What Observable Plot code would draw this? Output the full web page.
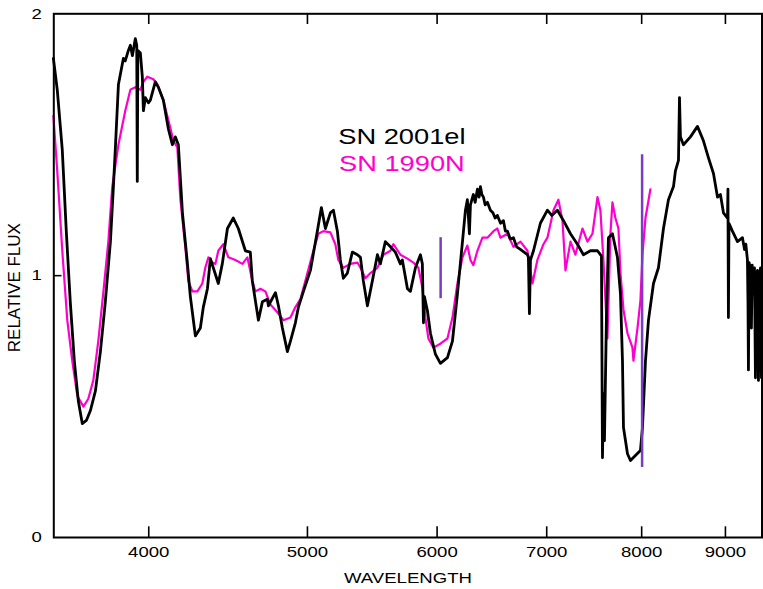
<!DOCTYPE html>
<html>
<head>
<meta charset="utf-8">
<script src="https://cdn.jsdelivr.net/npm/d3@7"></script>
<script src="https://cdn.jsdelivr.net/npm/@observablehq/plot@0.6"></script>
<style>
  html, body { margin: 0; padding: 0; background: #fff; }
  #chart svg { display: block; }
</style>
</head>
<body>
<div id="chart"></div>
<script>
// SN 2001el spectrum (wavelength in Å, relative flux)
const el2001Wave = [3498,3517,3542,3562,3582,3603,3623,3643,3664,3685,3711,3737,3763,3790,3806,3816,3833,3860,3870,3887,3898,3909,3925,3933,3936,3939,3953,3964,3970,3981,3998,4009,4037,4054,4083,4112,4135,4152,4170,4194,4223,4241,4271,4301,4319,4344,4362,4380,4411,4436,4468,4505,4537,4582,4614,4627,4667,4693,4726,4733,4780,4800,4827,4861,4882,4916,4937,4972,5021,5070,5099,5128,5164,5186,5215,5237,5259,5289,5326,5364,5387,5409,5440,5478,5517,5540,5579,5619,5658,5698,5714,5755,5779,5820,5861,5877,5886,5894,5919,5944,5986,6028,6088,6131,6174,6218,6244,6261,6279,6288,6314,6330,6350,6365,6377,6390,6404,6420,6440,6467,6490,6510,6531,6560,6587,6605,6624,6650,6680,6710,6746,6780,6813,6822,6832,6842,6871,6938,7007,7050,7106,7167,7238,7309,7371,7444,7518,7549,7560,7571,7581,7592,7613,7635,7678,7732,7765,7787,7798,7842,7875,7930,7986,8009,8043,8077,8134,8191,8249,8307,8366,8389,8425,8437,8448,8484,8568,8653,8726,8788,8850,8900,8937,8975,9026,9032,9038,9045,9089,9154,9218,9245,9262,9283,9290,9296,9305,9322,9335,9345,9362,9375,9388,9400,9415,9428,9440,9455,9462,9468,9474];
const el2001Flux = [1.83,1.71,1.48,1.17,0.90,0.67,0.52,0.435,0.447,0.485,0.56,0.71,0.90,1.13,1.34,1.48,1.73,1.83,1.82,1.86,1.88,1.84,1.905,1.88,1.36,1.86,1.85,1.76,1.63,1.68,1.66,1.67,1.74,1.72,1.67,1.56,1.50,1.53,1.50,1.24,1.05,0.92,0.77,0.80,0.88,0.95,1.065,1.03,0.97,1.046,1.18,1.22,1.18,1.095,1.09,0.98,0.83,0.90,0.91,0.885,0.935,0.885,0.80,0.71,0.75,0.82,0.88,0.94,1.02,1.17,1.26,1.18,1.24,1.25,1.17,1.06,0.99,1.01,1.09,1.08,1.07,0.98,0.885,0.98,1.08,1.045,1.13,1.11,1.09,1.045,1.06,0.95,0.94,1.03,1.08,1.045,0.82,0.92,0.866,0.78,0.70,0.665,0.687,0.75,0.93,1.13,1.25,1.29,1.16,1.27,1.31,1.28,1.33,1.30,1.34,1.31,1.30,1.27,1.28,1.25,1.24,1.22,1.23,1.20,1.21,1.17,1.17,1.14,1.145,1.11,1.10,1.09,1.08,1.07,0.855,1.06,1.095,1.20,1.25,1.23,1.25,1.21,1.16,1.12,1.08,1.095,1.095,1.08,1.076,0.305,0.55,0.37,0.83,1.145,1.16,1.07,0.93,0.675,0.42,0.32,0.294,0.313,0.332,0.42,0.675,0.83,0.97,1.03,1.18,1.29,1.34,1.40,1.44,1.68,1.53,1.50,1.53,1.57,1.515,1.45,1.39,1.30,1.31,1.24,1.22,1.33,0.84,1.20,1.17,1.13,1.145,1.10,1.12,1.06,0.90,0.64,1.05,1.02,0.80,1.04,0.93,1.03,0.61,1.00,1.02,0.60,0.98,1.03,0.75,0.61,0.95];

// SN 1990N spectrum
const n1990Wave = [3498,3517,3542,3567,3592,3618,3649,3674,3700,3726,3753,3779,3800,3833,3870,3898,3925,3953,3970,3992,4026,4049,4083,4123,4141,4164,4182,4211,4229,4253,4283,4313,4331,4350,4374,4393,4411,4442,4474,4518,4563,4595,4627,4647,4680,4713,4746,4793,4834,4882,4916,4951,5000,5042,5078,5113,5164,5200,5222,5259,5311,5364,5387,5425,5463,5517,5564,5619,5642,5698,5755,5803,5844,5877,5902,5927,5969,6028,6088,6131,6174,6218,6261,6288,6314,6350,6395,6440,6495,6531,6559,6624,6680,6746,6813,6861,6909,6968,7007,7067,7116,7157,7187,7238,7288,7361,7413,7465,7518,7549,7581,7624,7656,7678,7710,7743,7765,7798,7842,7897,7908,7953,7986,8009,8043,8099];
const n1990Flux = [1.61,1.40,1.095,0.83,0.675,0.54,0.50,0.53,0.60,0.75,0.94,1.13,1.34,1.50,1.63,1.71,1.72,1.71,1.74,1.76,1.75,1.73,1.67,1.565,1.515,1.49,1.29,1.11,0.98,0.94,0.94,0.97,1.03,1.07,1.05,1.045,1.095,1.12,1.07,1.06,1.045,1.07,0.98,0.94,0.95,0.94,0.89,0.86,0.83,0.84,0.88,0.91,1.01,1.095,1.16,1.17,1.165,1.12,1.06,1.03,1.045,1.05,1.03,0.99,1.01,1.03,1.08,1.095,1.12,1.08,1.065,1.05,1.03,0.955,0.84,0.76,0.725,0.74,0.76,0.84,0.97,1.07,1.115,1.06,1.04,1.095,1.145,1.145,1.17,1.18,1.145,1.16,1.11,1.13,1.095,0.97,1.06,1.12,1.145,1.25,1.29,1.21,1.02,1.13,1.08,1.18,1.13,1.16,1.30,1.25,1.06,0.76,1.16,1.28,1.22,1.18,1.01,0.87,0.78,0.725,0.675,0.80,0.905,1.08,1.22,1.33];

// Vertical line markers
const markerWave = [6030, 8005];
const markerLow = [0.912, 0.267];
const markerHigh = [1.145, 1.462];

// Axis ticks
const xTicks = [4000, 5000, 6000, 7000, 8000, 9000];
const yTicks = [0, 1, 2];

// Legend entries
const legendNames = ["SN 2001el", "SN 1990N"];
const legendColors = ["#000000", "#ff00cc"];

const el2001 = el2001Wave.map((w, i) => ({w, f: el2001Flux[i]}));
const n1990 = n1990Wave.map((w, i) => ({w, f: n1990Flux[i]}));
const markers = markerWave.map((w, i) => ({w, lo: markerLow[i], hi: markerHigh[i]}));

const font = "'Liberation Sans', Arial, Helvetica, sans-serif";

const chart = Plot.plot({
  width: 763,
  height: 589,
  marginLeft: 53.3,
  marginRight: 1.5,
  marginTop: 13.3,
  marginBottom: 52,
  style: {fontFamily: font, fontSize: "15px", background: "#fff", color: "#000"},
  x: {type: "log", domain: [3500, 9475]},
  y: {domain: [0, 2]},
  marks: [
    Plot.line(n1990, {x: "w", y: "f", stroke: legendColors[1], strokeWidth: 2.2, strokeLinejoin: "round"}),
    Plot.line(el2001, {x: "w", y: "f", stroke: legendColors[0], strokeWidth: 2.8, strokeLinejoin: "round"}),
    Plot.ruleX(markers, {x: "w", y1: "lo", y2: "hi", stroke: "#7b3cc4", strokeWidth: 2.5}),
    // inward ticks on bottom and top edges, and at y = 1 on the left
    Plot.tickX(xTicks, {x: d => d, insetTop: 513, stroke: "#000", strokeWidth: 1.6}),
    Plot.tickX(xTicks, {x: d => d, insetBottom: 513, stroke: "#000", strokeWidth: 1.6}),
    Plot.tickY([1], {y: d => d, insetRight: 700, stroke: "#000", strokeWidth: 1.6}),
    Plot.axisX(xTicks, {tickSize: 0, tickPadding: 9, tickFormat: d => String(d), fontSize: 15, label: null, className: "wide"}),
    Plot.axisY(yTicks, {tickSize: 0, tickPadding: 12, tickFormat: d => String(d), fontSize: 15, label: null, className: "wide"}),
    Plot.frame({stroke: "#000", strokeWidth: 2}),
    Plot.text(["WAVELENGTH"], {frameAnchor: "bottom", dy: 41, lineAnchor: "middle", fontSize: 15, className: "wide"}),
    Plot.text(["RELATIVE FLUX"], {frameAnchor: "left", dx: -39, dy: 12, rotate: -90, textAnchor: "middle",
      lineAnchor: "middle", fontSize: 17}),
    Plot.text([legendNames[0]], {frameAnchor: "top", dx: -6, dy: 123, lineAnchor: "middle", fontSize: 22,
      fill: legendColors[0], className: "wide"}),
    Plot.text([legendNames[1]], {frameAnchor: "top", dx: -6, dy: 150, lineAnchor: "middle", fontSize: 22,
      fill: legendColors[1], className: "wide"})
  ]
});
document.getElementById("chart").appendChild(chart);

// The lettering is set horizontally widened; stretch each label about its anchor point.
const stretch = 1.24;
chart.querySelectorAll(".wide text").forEach(t => {
  const tr = t.getAttribute("transform");
  const x = t.getAttribute("x");
  const y = t.getAttribute("y");
  if (x != null || y != null) {
    const px = +x || 0, py = +y || 0;
    t.setAttribute("transform", `${tr || ""} translate(${px},${py}) scale(${stretch},1) translate(${-px},${-py})`);
  } else {
    t.setAttribute("transform", `${tr || ""} scale(${stretch},1)`);
  }
});
</script>
</body>
</html>
